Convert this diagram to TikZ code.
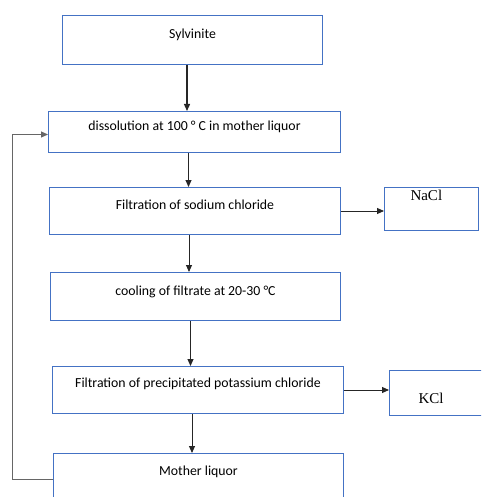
\documentclass[tikz,border=0pt]{standalone}
\usepackage{fontspec}
\setmainfont{Carlito}
\newfontfamily\prodfont{Liberation Serif}
\usetikzlibrary{arrows.meta,positioning}
\definecolor{boxblue}{RGB}{68,114,196}
\tikzset{
  >={Triangle[length=7pt,width=6pt]},
  proc/.style ={draw=boxblue, line width=1pt, inner sep=0pt, anchor=north west, font=\fontsize{13.8}{16}\selectfont},
  prod/.style ={draw=boxblue, line width=1pt, inner ysep=0pt, anchor=north west, align=left, text width=42pt, font=\prodfont\fontsize{15}{17}\selectfont},
  arr/.style  ={->, line width=0.9pt, black!85},
  ret/.style  ={->, line width=0.9pt, black!60},
}

\begin{document}
\begin{tikzpicture}[x=1pt, y=-1pt]
  \clip (0,0) rectangle (481,497);

  % process chain
  \node[proc, minimum width=260pt, text height=23.2pt, text depth=25.8pt] (syl) at (62,15) {Sylvinite};
  \node[proc, minimum width=292pt, text height=19.2pt, text depth=21.8pt] (dis) at (48,111) {dissolution at 100 ° C in mother liquor};
  \node[proc, minimum width=291pt, text height=22.2pt, text depth=24.8pt] (fna) at (49,187) {Filtration of sodium chloride};
  \node[proc, minimum width=290pt, text height=23.2pt, text depth=24.8pt] (cool) at (50,272) {cooling of filtrate at 20-30 °C};
  \node[proc, minimum width=291pt, text height=21.2pt, text depth=25.8pt] (fpk) at (52,366) {Filtration of precipitated potassium chloride};
  \node[proc, minimum width=290pt, text height=22.2pt, text depth=29.3pt] (ml) at (53,453) {Mother liquor};

  % products
  \node[prod, inner xsep=26pt, text height=13pt, text depth=30pt] (nacl) at (384,187) {NaCl};
  \node[prod, inner xsep=29pt, text height=33pt, text depth=12pt] (kcl) at (389,370) {KCl};

  \draw[arr, line width=1.3pt] ([xshift=-5.5pt]syl.south) -- ([xshift=-5.5pt]syl.south |- dis.north);
  \draw[arr] ([xshift=-6pt]dis.south) -- ([xshift=-6pt]dis.south |- fna.north);
  \draw[arr] ([xshift=-6pt]fna.south) -- ([xshift=-6pt]fna.south |- cool.north);
  \draw[arr] ([xshift=-5pt]cool.south) -- ([xshift=-5pt]cool.south |- fpk.north);
  \draw[arr] ([xshift=-6pt]fpk.south) -- ([xshift=-6pt]fpk.south |- ml.north);
  \draw[arr] (fna.east) -- (nacl.west |- fna.east);
  \draw[arr] (fpk.east) -- (kcl.west |- fpk.east);

  % recycle of mother liquor
  \draw[ret] (ml.west) -- ++(-41,0) |- ([yshift=-2.5pt]dis.west);
\end{tikzpicture}
\end{document}
